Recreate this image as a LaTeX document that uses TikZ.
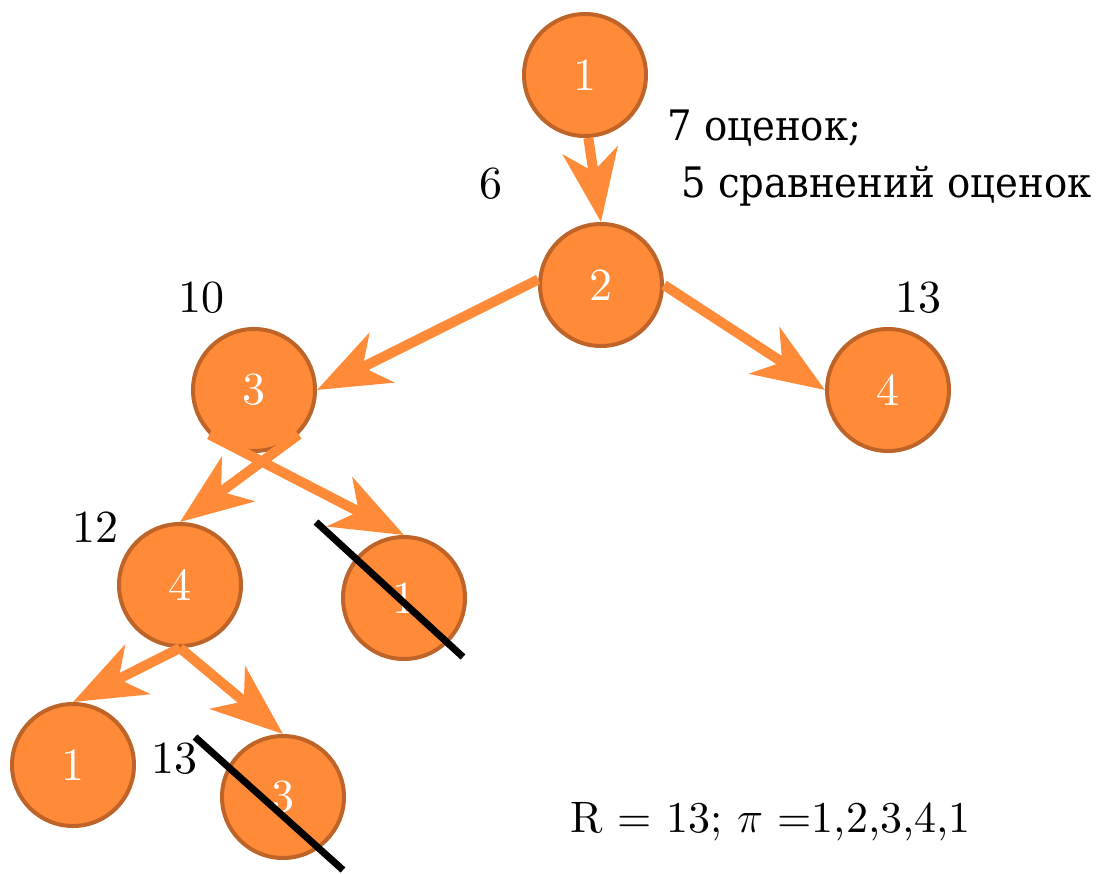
\RequirePackage{fix-cm}
\documentclass[tikz,border=0pt]{standalone}
\usepackage{fontspec}
\setmainfont{lmroman10-regular.otf}
\newfontfamily\rusfont{DejaVu Serif}[FakeStretch=0.92]
\usetikzlibrary{arrows.meta}
\definecolor{nodeorange}{HTML}{FF8A38}
\definecolor{nodeborder}{HTML}{BE6429}
\tikzset{
  vertex/.style={circle, minimum size=122pt, inner sep=0pt, fill=nodeorange, draw=nodeborder, line width=4pt, text=white, font=\fontsize{46}{50}\selectfont},
  edge/.style={draw=nodeorange, line width=10pt, -{Stealth[length=72pt, width=55pt, inset=21pt, fill=nodeorange]}},
  lbl/.style={inner sep=0pt, anchor=base, font=\fontsize{46}{50}\selectfont},
  rus/.style={inner sep=0pt, anchor=base west, font=\rusfont\fontsize{42}{48}\selectfont},
  strike/.style={draw=black, line width=7pt}
}
\begin{document}
\begin{tikzpicture}[x=1pt,y=-1pt]
\useasboundingbox (0,0) rectangle (1097,873);
\node[vertex] (a1) at (585,75) {1};
\node[vertex] (a2) at (601,285) {2};
\node[vertex] (a3) at (254,390) {3};
\node[vertex] (a4r) at (888,390) {4};
\node[vertex] (a4) at (180,585) {4};
\node[vertex] (b1) at (404,598) {1};
\node[vertex] (c1) at (73,765) {1};
\node[vertex] (c3) at (283,797) {3};

\draw[edge] (a1.273) -- (a2.north);
\draw[edge] (a2.175) -- (a3.east);
\draw[edge] (a2.east) -- (a4r.west);
\draw[edge] (a3.-45) -- (a4.north);
\draw[edge] (a3.225) -- (b1.north);
\draw[edge] (a4.south) -- (c1.north);
\draw[edge] (a4.south) -- (c3.north);

\draw[strike] (316,522) -- (463,657);
\draw[strike] (195,737) -- (343,870);

\node[lbl] (l6) at (491,198) {6};
\node[lbl] (l10) at (201,312) {10};
\node[lbl] (l13a) at (918,312) {13};
\node[lbl] (l12) at (95,542) {12};
\node[lbl] (l13b) at (174,773) {13};
\node[rus] (t1) at (667,140) {7 оценок;};
\node[rus] (t2) at (681,197) {5 сравнений оценок};
\node[lbl, anchor=base west, font=\fontsize{44}{48}\selectfont] (res) at (570,832) {R = 13; $\pi$ =1,2,3,4,1};
\end{tikzpicture}
\end{document}
